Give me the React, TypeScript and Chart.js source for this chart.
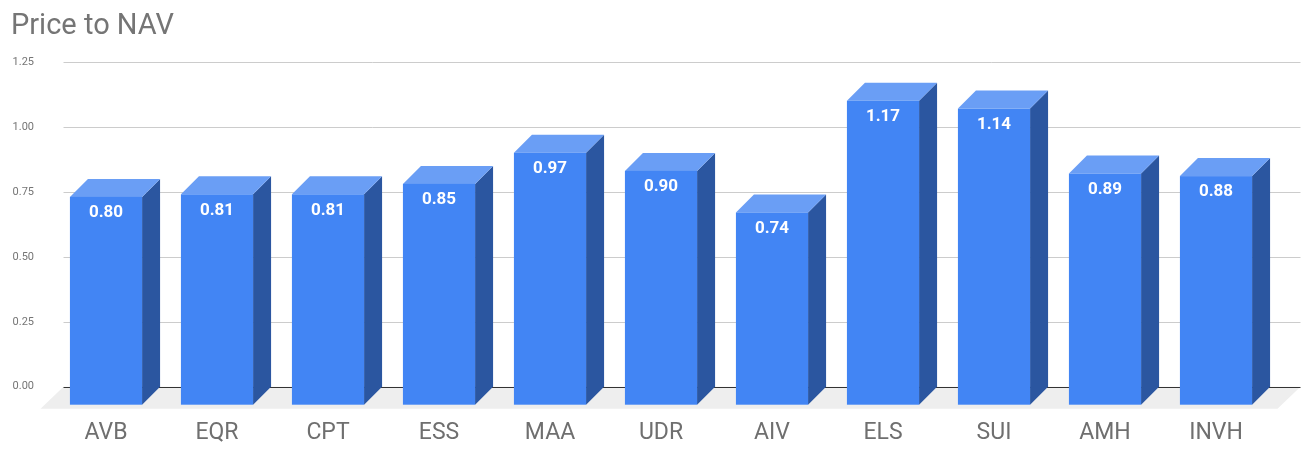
import React, { useEffect, useRef } from 'react';
import { Chart, registerables } from 'chart.js';

Chart.register(...registerables);

// data
const tickers = ['AVB', 'EQR', 'CPT', 'ESS', 'MAA', 'UDR', 'AIV', 'ELS', 'SUI', 'AMH', 'INVH'];
const priceToNav = [0.80, 0.81, 0.81, 0.85, 0.97, 0.90, 0.74, 1.17, 1.14, 0.89, 0.88];
const yMin = 0;
const yMax = 1.25;
const yStep = 0.25;

// 3d look
const DEPTH = 18; // bar depth (px)
const FLOOR_DX = 23;
const FLOOR_DY = 22;
const FRONT = '#4285f4';
const SIDE = '#2b56a0';
const TOP = '#6a9ef5';

const bars3d = {
    id: 'bars3d',
    beforeDatasetsDraw(chart: any) {
        const { ctx, chartArea, scales } = chart;
        const y = scales.y;
        const zero = y.getPixelForValue(0);
        const fl = chartArea.left - 10;
        const fr = chartArea.right + 6;

        ctx.save();
        // floor
        ctx.fillStyle = '#eeeeee';
        ctx.beginPath();
        ctx.moveTo(fl, zero + FLOOR_DY);
        ctx.lineTo(fr, zero + FLOOR_DY);
        ctx.lineTo(fr + FLOOR_DX, zero);
        ctx.lineTo(fl + FLOOR_DX, zero);
        ctx.closePath();
        ctx.fill();

        // gridlines on the back wall
        ctx.lineWidth = 1;
        y.ticks.forEach((t: any) => {
            const py = Math.round(y.getPixelForValue(t.value)) + 0.5;
            ctx.strokeStyle = t.value === 0 ? '#333333' : '#cccccc';
            ctx.beginPath();
            ctx.moveTo(fl + FLOOR_DX, py);
            ctx.lineTo(fr + FLOOR_DX, py);
            ctx.stroke();
        });
        ctx.restore();
    },
    afterDatasetsDraw(chart: any) {
        const { ctx } = chart;
        const meta = chart.getDatasetMeta(0);
        ctx.save();
        meta.data.forEach((bar: any, i: number) => {
            const { x, y, base, width } = bar.getProps(['x', 'y', 'base', 'width'], true);
            const l = x - width / 2;
            const r = x + width / 2;
            const top = y + DEPTH;
            const bottom = base + DEPTH;

            // side face
            ctx.fillStyle = SIDE;
            ctx.beginPath();
            ctx.moveTo(r, top);
            ctx.lineTo(r + DEPTH, top - DEPTH);
            ctx.lineTo(r + DEPTH, bottom - DEPTH);
            ctx.lineTo(r, bottom);
            ctx.closePath();
            ctx.fill();

            // top face
            ctx.fillStyle = TOP;
            ctx.beginPath();
            ctx.moveTo(l, top);
            ctx.lineTo(l + DEPTH, top - DEPTH);
            ctx.lineTo(r + DEPTH, top - DEPTH);
            ctx.lineTo(r, top);
            ctx.closePath();
            ctx.fill();

            // front face
            ctx.fillStyle = FRONT;
            ctx.fillRect(l, top, width, bottom - top);

            // value label
            ctx.fillStyle = '#ffffff';
            ctx.font = 'bold 17px Roboto';
            ctx.textAlign = 'center';
            ctx.textBaseline = 'middle';
            ctx.fillText(priceToNav[i].toFixed(2), x, top + 16);
        });

        ctx.restore();
    },
    afterDraw(chart: any) {
        const { ctx } = chart;
        ctx.save();
        ctx.fillStyle = '#757575';
        ctx.font = '29px Roboto';
        ctx.textAlign = 'left';
        ctx.textBaseline = 'alphabetic';
        ctx.fillText('Price to NAV', 11, 34);
        ctx.restore();
    },
};

const App: React.FC = () => {
    const chartRef = useRef<HTMLCanvasElement | null>(null);

    useEffect(() => {
        const ctx = chartRef.current?.getContext('2d');
        if (!ctx) {
            return;
        }

        const myChart = new Chart(ctx, {
            type: 'bar',
            data: {
                labels: tickers,
                datasets: [
                    {
                        label: 'Price to NAV',
                        data: priceToNav,
                        backgroundColor: 'rgba(0,0,0,0)',
                        borderWidth: 0,
                        categoryPercentage: 1,
                        barPercentage: 0.65,
                    },
                ],
            },
            options: {
                responsive: true,
                maintainAspectRatio: false,
                animation: false,
                events: [],
                layout: {
                    padding: { top: 62, left: 11, right: 37.5, bottom: 0 },
                },
                plugins: {
                    legend: { display: false },
                    title: { display: false },
                    tooltip: { enabled: false },
                },
                scales: {
                    x: {
                        grid: { display: false, drawTicks: false },
                        border: { display: false },
                        ticks: {
                            color: '#6f6f6f',
                            font: { family: 'Roboto', size: 23 },
                            padding: 33,
                            maxRotation: 0,
                        },
                        afterFit: (scale: any) => {
                            scale.height = 70.3;
                        },
                    },
                    y: {
                        min: yMin,
                        max: yMax,
                        grid: { display: false, drawTicks: false },
                        border: { display: false },
                        ticks: {
                            stepSize: yStep,
                            color: '#757575',
                            font: { family: 'Roboto', size: 11 },
                            padding: 16.5,
                            callback: (v: any) => Number(v).toFixed(2),
                        },
                        afterFit: (scale: any) => {
                            scale.width = 39.5;
                        },
                    },
                },
            },
            plugins: [bars3d],
        });

        return () => {
            myChart.destroy();
        };
    }, []);

    return (
        <div style={{ position: 'fixed', left: 0, top: 0, width: 1309, height: 457, background: '#fff' }}>
            <canvas ref={chartRef} />
        </div>
    );
};

export default App;
